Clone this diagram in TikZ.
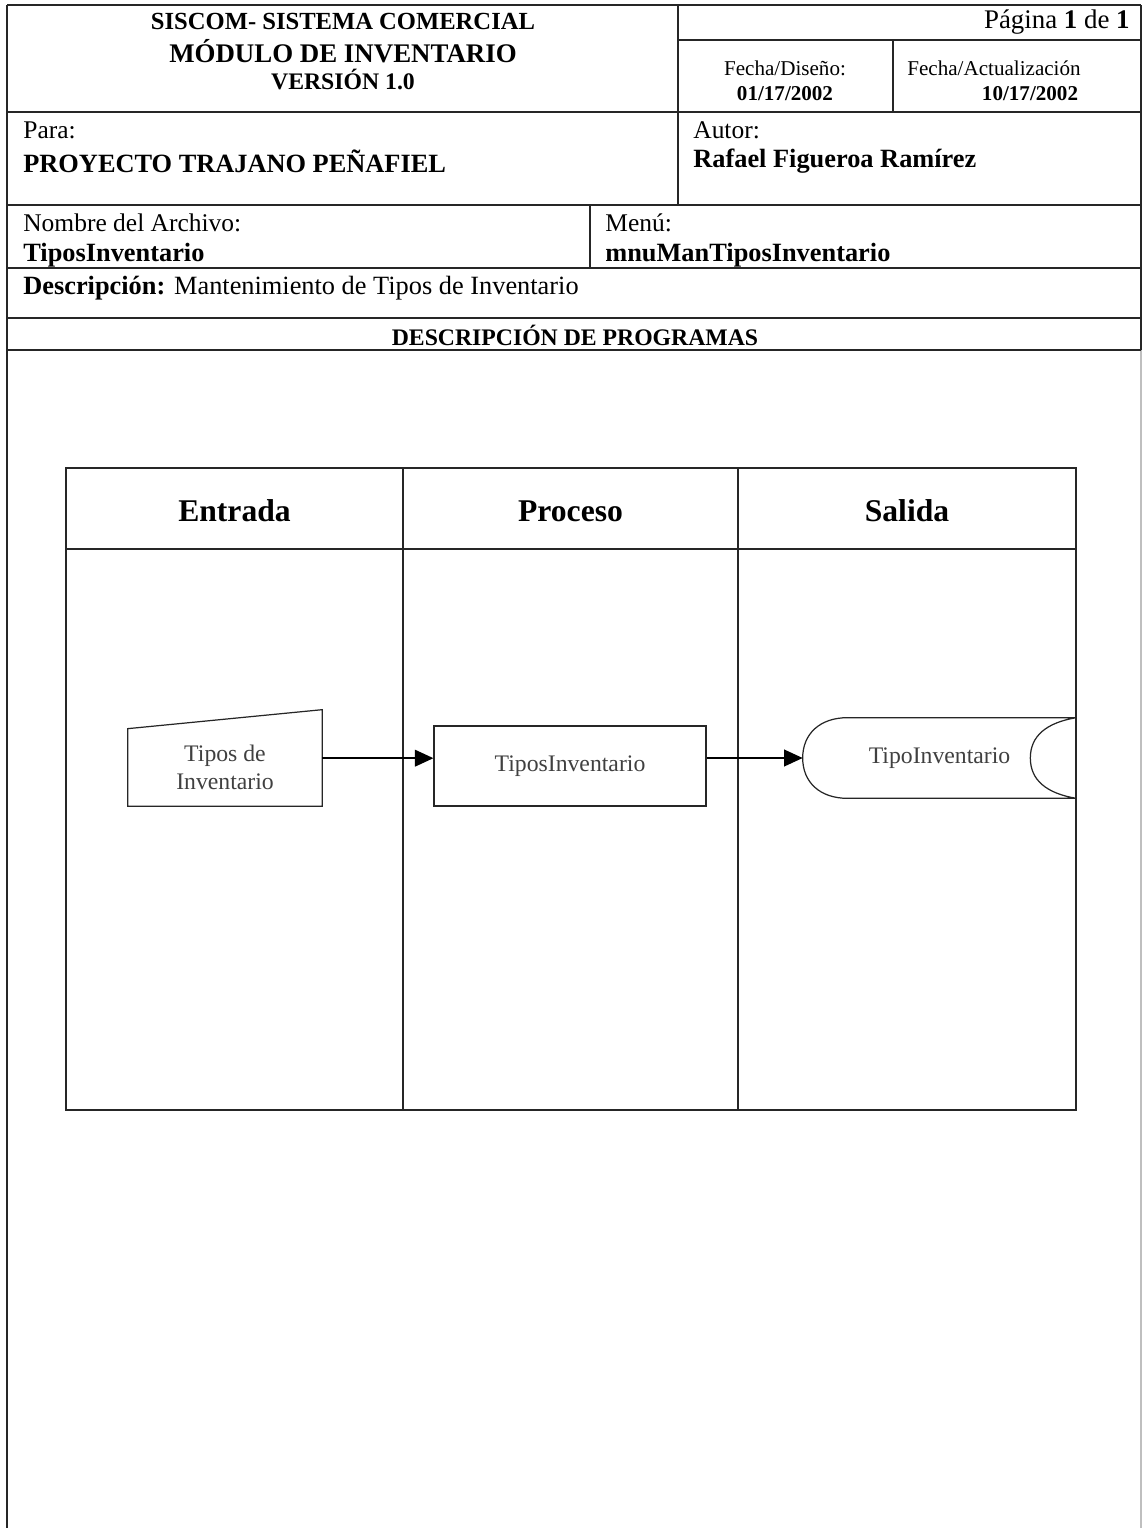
\documentclass[tikz,border=0pt]{standalone}
\usepackage{fontspec}
\setmainfont{Liberation Serif}
\usetikzlibrary{arrows.meta, calc}
\tikzset{
    formline/.style={line width=1.1pt, color=black!85},
    laneline/.style={line width=0.8pt, color=black!85},
    fieldname/.style={anchor=west, inner sep=0pt, font=\fontsize{14.5}{17}\selectfont},
    fieldvalue/.style={anchor=west, inner sep=0pt, font=\fontsize{15}{17}\selectfont\bfseries},
    datename/.style={inner sep=0pt, font=\fontsize{12}{14}\selectfont},
    datevalue/.style={inner sep=0pt, font=\fontsize{12}{14}\selectfont\bfseries},
    lanetitle/.style={inner sep=0pt, font=\fontsize{18}{21}\selectfont\bfseries},
    inputblock/.style={inner sep=0pt, minimum width=3.88cm, minimum height=1.54cm, align=center, text=black!75, font=\fontsize{13.5}{15.9}\selectfont},
    processblock/.style={rectangle, draw=black!85, line width=0.7pt, inner sep=0pt, minimum width=5.44cm, minimum height=1.6cm, text=black!75, font=\fontsize{13.5}{16}\selectfont},
    storeblock/.style={inner sep=0pt, minimum width=5.46cm, minimum height=1.6cm, text=black!75, font=\fontsize{13.5}{16}\selectfont},
    shapeline/.style={line width=0.7pt, color=black!85},
    arrow/.style={line width=0.8pt, -{Triangle[length=10.5pt, width=9.5pt]}, color=black}
}

\begin{document}
\begin{tikzpicture}[x=0.02cm, y=-0.02cm]
    \useasboundingbox (0,0) rectangle (1142,1528);

    \draw [formline] (7,5) -- (1141,5);
    \draw [formline] (7,5) -- (7,1528);
    \draw [formline] (1141,5) -- (1141,350);
    \draw [line width=0.6pt, black!25] (1141,350) -- (1141,1528);
    \draw [formline] (678,5) -- (678,205);
    \draw [formline] (678,40) -- (1141,40);
    \draw [formline] (893,40) -- (893,112);
    \draw [formline] (7,112) -- (1141,112);
    \draw [formline] (7,205) -- (1141,205);
    \draw [formline] (590,205) -- (590,268);
    \draw [formline] (7,268) -- (1141,268);
    \draw [formline, line width=1.4pt] (7,318) -- (1141,318);
    \draw [formline] (7,350) -- (1141,350);

    \node (sistema) [inner sep=0pt, font=\fontsize{14}{16}\selectfont\bfseries] at (343,21) {SISCOM- SISTEMA COMERCIAL};
    \node (modulo) [inner sep=0pt, font=\fontsize{15.3}{17}\selectfont\bfseries] at (343,51) {MÓDULO DE INVENTARIO};
    \node (version) [inner sep=0pt, font=\fontsize{13.5}{16}\selectfont\bfseries] at (343,80) {VERSIÓN 1.0};
    \node (pagina) [anchor=east, inner sep=0pt, font=\fontsize{15.3}{17}\selectfont] at (1130,22) {Página \textbf{1} de \textbf{1}};

    \node (fdiseno) [datename] at (785,68) {Fecha/Diseño:};
    \node (fdisenoval) [datevalue] at (785,94) {01/17/2002};
    \node (factual) [datename, anchor=west] at (907,68) {Fecha/Actualización};
    \node (factualval) [datevalue] at (1030,94) {10/17/2002};

    \node (para) [fieldname] at (23,130) {Para:};
    \node (paraval) [fieldvalue] at (23,161) {PROYECTO TRAJANO PEÑAFIEL};
    \node (autor) [fieldname] at (693,130) {Autor:};
    \node (autorval) [fieldvalue] at (693,161) {Rafael Figueroa Ramírez};
    \node (archivo) [fieldname] at (23,223) {Nombre del Archivo:};
    \node (archivoval) [fieldvalue] at (23,255) {TiposInventario};
    \node (menu) [fieldname] at (605,223) {Menú:};
    \node (menuval) [fieldvalue] at (605,255) {mnuManTiposInventario};
    \node (descripcion) [fieldname, font=\fontsize{15}{17}\selectfont] at (23,288) {\textbf{Descripción:} Mantenimiento de Tipos de Inventario};
    \node (programas) [inner sep=0pt, font=\fontsize{13.5}{16}\selectfont\bfseries] at (575,335) {DESCRIPCIÓN DE PROGRAMAS};

    \draw [laneline] (66,468) rectangle (1076,1110);
    \draw [laneline] (66,549) -- (1076,549);
    \draw [laneline] (403,468) -- (403,1110);
    \draw [laneline] (738,468) -- (738,1110);
    \node (entrada) [lanetitle] at (234.5,511) {Entrada};
    \node (proceso) [lanetitle] at (570.5,511) {Proceso};
    \node (salida) [lanetitle] at (907,511) {Salida};

    \node (tipos) [inputblock] at (225,767.5) {Tipos de\\Inventario};
    \draw [shapeline] (tipos.south west) -- (tipos.north west) -- ($(tipos.north east)+(0,-19)$) -- (tipos.south east) -- cycle;

    \node (tiposinv) [processblock] at (570,766) {TiposInventario};

    \node (tipoinv) [storeblock] at (939.5,758) {TipoInventario};
    \draw [shapeline] ($(tipoinv.north west)+(45,0)$) -- (tipoinv.north east)
        .. controls +(-30,5) and +(0,-22) .. ($(tipoinv.east)+(-46,0)$)
        .. controls +(0,22) and +(-30,-5) .. (tipoinv.south east)
        -- ($(tipoinv.south west)+(45,0)$)
        .. controls +(-28,0) and +(0,24) .. (tipoinv.west)
        .. controls +(0,-24) and +(-28,0) .. ($(tipoinv.north west)+(45,0)$);

    \draw [arrow] ($(tipos.south east)!0.62!(tipos.north east)$) coordinate (flow) -- (flow -| tiposinv.west);
    \draw [arrow] (tipoinv.west -| tiposinv.east) -- (tipoinv.west);
\end{tikzpicture}
\end{document}
